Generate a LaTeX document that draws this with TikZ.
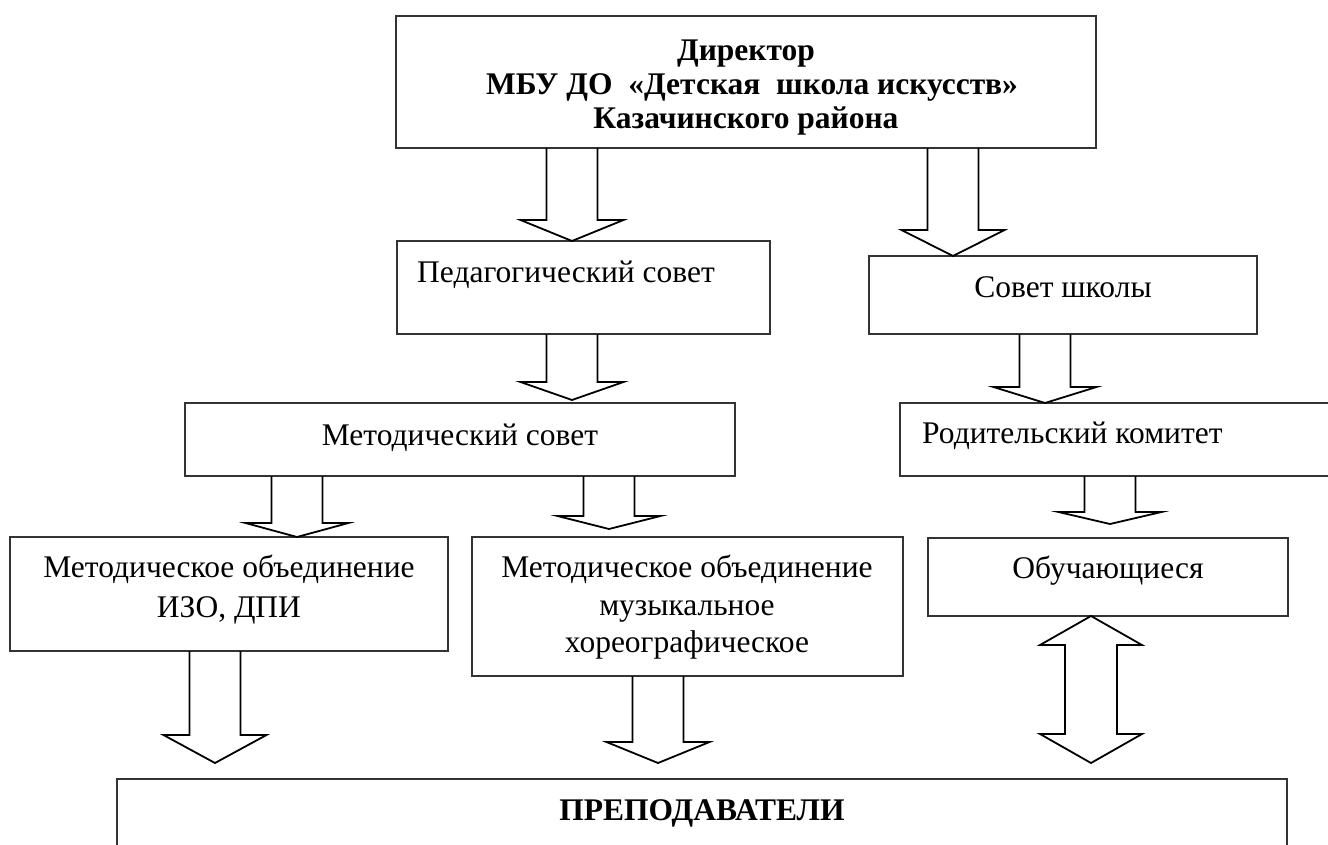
\documentclass[tikz,border=0pt]{standalone}
\usepackage{fontspec}
\setmainfont{Liberation Serif}
\usetikzlibrary{calc}
\tikzset{
  box/.style={draw=black!80, line width=1.4pt, inner sep=0pt, outer sep=0pt},
  openbox/.style={draw=none, inner sep=0pt, outer sep=0pt},
  edgeline/.style={draw=black!80, line width=1.4pt},
  blk/.style={draw=black, line width=1.8pt, line join=miter, miter limit=10},
  txt/.style={inner sep=0pt, font=\fontsize{31.5}{38}\selectfont},
  btxt/.style={inner sep=0pt, font=\fontsize{31.5}{34}\selectfont\bfseries},
}
\newcommand\mkbox[6][box]{\node[#1, minimum width={(#5-#3)*1pt}, minimum height={(#6-#4)*1pt}] (#2) at ({(#3+#5)/2},{(#4+#6)/2}) {};}
\newcommand\blkdown[4]{%
  \path (#2,0) coordinate (bx);
  \draw[blk] ($(#1.south -| bx)+(-25.5,0)$) -- (#2-25.5,#3) -- (#2-51.5,#3) -- (#2,#4) -- (#2+51.5,#3) -- (#2+25.5,#3) -- ($(#1.south -| bx)+(25.5,0)$);
}
\begin{document}
\begin{tikzpicture}[x=1pt,y=-1pt]
\useasboundingbox (0,0) rectangle (1328,845);
\clip (0,0) rectangle (1328,845);
% boxes
\mkbox{dir}{396}{16}{1096}{148}
\mkbox{ped}{397}{241}{770}{334}
\mkbox{sov}{869}{256}{1257}{334}
\mkbox{met}{185}{403}{735}{476}
\mkbox[openbox]{rod}{900}{403}{1345}{476}
\draw[edgeline] (rod.north east) -- (rod.north west) -- (rod.south west) -- (rod.south east);
\mkbox{izo}{10}{537}{448}{651}
\mkbox{muz}{472}{537}{903}{676}
\mkbox{obu}{928}{538}{1288}{616}
\mkbox[openbox]{prep}{117}{779}{1287}{860}
\draw[edgeline] (prep.south west) -- (prep.north west) -- (prep.north east) -- (prep.south east);
% texts
\node[btxt, anchor=base] (tdir1) at (746,61) {Директор};
\node[btxt, anchor=base] (tdir2) at (752,95) {МБУ ДО~ «Детская~ школа искусств»};
\node[btxt, anchor=base] (tdir3) at (746,129) {Казачинского района};
\node[txt, anchor=base west] (tped) at (417,283) {Педагогический совет};
\node[txt, anchor=base] (tsov) at (1063,297) {Совет школы};
\node[txt, anchor=base] (tmet) at (460,445) {Методический совет};
\node[txt, anchor=base west] (trod) at (922,443) {Родительский комитет};
\node[txt, anchor=base] (tizo1) at (229,577) {Методическое объединение};
\node[txt, anchor=base] (tizo2) at (229,617) {ИЗО, ДПИ};
\node[txt, anchor=base] (tmuz1) at (687,577) {Методическое объединение};
\node[txt, anchor=base] (tmuz2) at (687,615) {музыкальное};
\node[txt, anchor=base] (tmuz3) at (687,652) {хореографическое};
\node[txt, anchor=base] (tobu) at (1108,578) {Обучающиеся};
\node[btxt, anchor=base] (tprep) at (702,820) {ПРЕПОДАВАТЕЛИ};
% block arrows
\blkdown{dir}{572}{220}{241}
\blkdown{dir}{953}{230}{256}
\blkdown{ped}{572}{382}{400}
\blkdown{sov}{1045}{387}{403}
\blkdown{met}{297}{523}{537}
\blkdown{met}{609}{516}{529}
\blkdown{rod}{1110}{512}{524}
\blkdown{izo}{215}{735}{763}
\blkdown{muz}{658}{742}{763}
\path (1091,0) coordinate (dx);
\draw[blk] (obu.south -| dx) -- (1142,645) -- (1117,645) -- (1117,734) -- (1142,734) -- (1091,763) -- (1040,734) -- (1065,734) -- (1065,645) -- (1040,645) -- cycle;
\end{tikzpicture}
\end{document}
